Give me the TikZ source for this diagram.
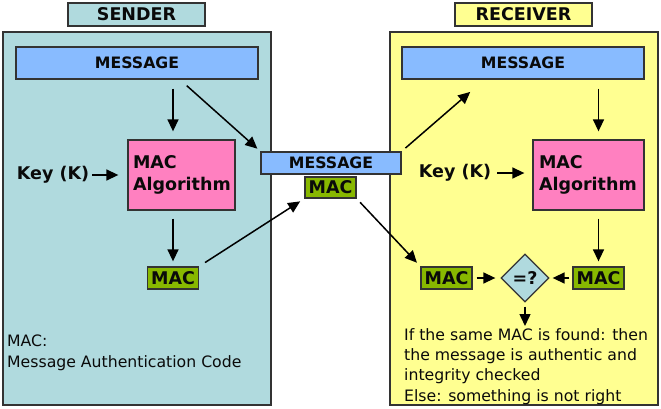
\documentclass[tikz,border=0pt]{standalone}
\usepackage{fontspec}
\setmainfont{DejaVu Sans}
\usetikzlibrary{arrows.meta,shapes.geometric,calc}
\definecolor{sbg}{RGB}{176,218,222}
\definecolor{rbg}{RGB}{255,255,145}
\definecolor{msgc}{RGB}{136,187,255}
\definecolor{algc}{RGB}{255,128,192}
\definecolor{macc}{RGB}{136,184,0}
\definecolor{bord}{RGB}{51,51,51}
\definecolor{txt}{RGB}{10,10,10}
\begin{document}
\begin{tikzpicture}[x=1pt,y=-1pt,
  box/.style={draw=bord,line width=1.3pt,inner sep=0pt,text=txt},
  bigfont/.style={font=\fontsize{17.5}{22}\selectfont\bfseries},
  titlebox/.style={box,bigfont,minimum width=137pt,minimum height=23pt},
  panel/.style={box,minimum width=268pt,minimum height=373pt},
  msgbox/.style={box,fill=msgc,font=\fontsize{15.7}{19}\selectfont\bfseries},
  macbox/.style={box,fill=macc,bigfont,minimum width=51pt,minimum height=22pt},
  algbox/.style={box,fill=algc,bigfont,align=left,minimum height=70pt},
  keytext/.style={inner sep=0pt,text=txt,bigfont},
  plain/.style={inner sep=0pt,text=txt,align=left,font=\fontsize{15.7}{20.3}\selectfont},
  arr/.style={-{Triangle[length=12pt,width=11pt]},line width=1.5pt,draw=black}
]
\useasboundingbox (0,0) rectangle (661,409);
% panels
\node[panel,fill=sbg] (spanel) at (137,218.5) {};
\node[panel,fill=rbg] (rpanel) at (524,218.5) {};
% sender
\node[titlebox,fill=sbg] (stitle) at (136.5,14.5) {SENDER};
\node[msgbox,minimum width=242pt,minimum height=32pt] (smsg) at (137,63) {MESSAGE};
\node[algbox,minimum width=107pt,text width=97pt] (salg) at (181.5,175) {MAC\\Algorithm};
\node[keytext] (skey) at (53,175) {Key (K)};
\node[macbox] (smac) at (173,278) {MAC};
\node[plain,anchor=north west] (snote) at (7,335) {MAC:\\Message Authentication Code};
% middle
\node[msgbox,minimum width=140pt,minimum height=22pt] (mmsg) at (331,163) {MESSAGE};
\node[macbox,minimum height=21pt] (mmac) at (330.5,187.5) {MAC};
% receiver
\node[titlebox,fill=rbg] (rtitle) at (523.5,14.5) {RECEIVER};
\node[msgbox,minimum width=242pt,minimum height=32pt] (rmsg) at (523,63) {MESSAGE};
\node[algbox,minimum width=111pt,text width=99pt] (ralg) at (588.5,175) {MAC\\Algorithm};
\node[keytext] (rkey) at (455,173) {Key (K)};
\node[macbox] (rmacl) at (446.5,278) {MAC};
\node[macbox] (rmacr) at (598.5,278) {MAC};
\node[box,fill=sbg,shape=diamond,minimum width=48pt,minimum height=48pt,bigfont] (cmp) at (525,278) {=?};
\node[plain,anchor=north west] (rnote) at (404,328) {If the same MAC is found: then\\the message is authentic and\\integrity checked\\Else: something is not right};
% sender arrows
\draw[arr,shorten <=9pt,shorten >=8pt] (smsg.south -| smac.north) -- (salg.north -| smac.north);
\draw[arr,shorten <=3pt,shorten >=9pt] (skey.east) -- (salg.west |- skey.east);
\draw[arr,shorten <=8pt,shorten >=5pt] (salg.south -| smac.north) -- (smac.north);
\draw[arr,shorten <=9pt,shorten >=4pt] ([xshift=43pt]smsg.south) -- (mmsg.north west);
\draw[arr,shorten <=7pt,shorten >=5pt] (smac.north east) -- (mmac.south west);
% receiver arrows
\draw[arr,shorten <=5pt,shorten >=5pt] (mmsg.north east) -- ([xshift=-49pt,yshift=-9pt]rmsg.south);
\draw[arr,shorten <=5pt,shorten >=5pt] (mmac.south east) -- (rmacl.north west);
\draw[arr,shorten <=9pt,shorten >=8pt] (rmsg.south -| rmacr.north) -- (ralg.north -| rmacr.north);
\draw[arr,shorten <=6pt,shorten >=8pt] (rkey.east) -- (ralg.west |- rkey.east);
\draw[arr,shorten <=8pt,shorten >=5pt] (ralg.south -| rmacr.north) -- (rmacr.north);
\draw[arr,shorten <=4pt,shorten >=5pt] (rmacl.east) -- (cmp.west);
\draw[arr,shorten <=3pt,shorten >=3pt] (rmacr.west) -- (cmp.east);
\draw[arr,shorten <=4pt,shorten >=2pt] (cmp.south) -- (cmp.south |- rnote.north);
\end{tikzpicture}
\end{document}
